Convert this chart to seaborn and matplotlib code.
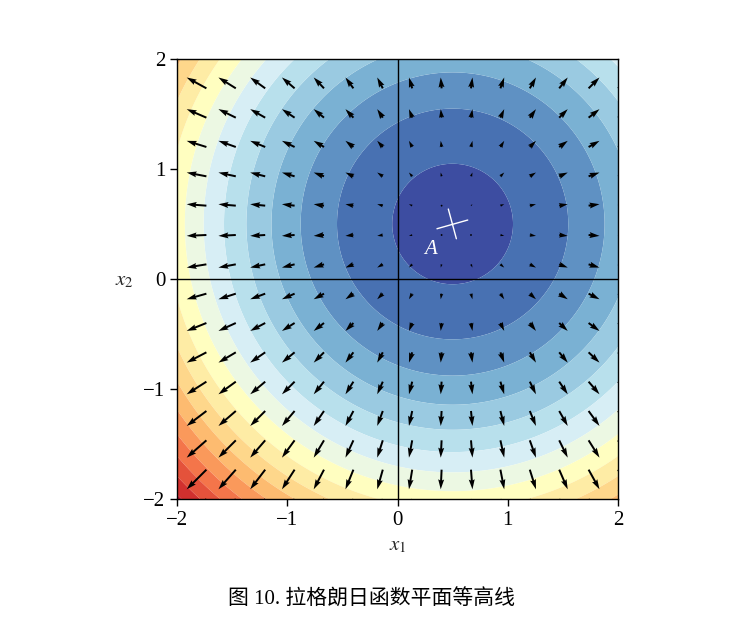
import numpy as np
import matplotlib
matplotlib.use("Agg")
import matplotlib.pyplot as plt
import seaborn as sns

# 函数 L = x1^2 + x2^2 - x1 - x2 + 1 的等高线
tick_values = [-2, -1, 0, 1, 2]
tick_labels = ["\u22122", "\u22121", "0", "1", "2"]
contour_levels = [0.0, 0.8, 1.6, 2.4, 3.2, 4.0, 4.8, 5.6, 6.4, 7.2, 8.0, 8.8, 9.6, 10.4, 11.2, 12.0, 12.8, 13.6]
cross_a_x = [0.358, 0.637]
cross_a_y = [0.457, 0.536]
cross_b_x = [0.461, 0.534]
cross_b_y = [0.636, 0.366]
point_name = "A"
caption = "图 10. 拉格朗日函数平面等高线"

sns.set_style("ticks")
plt.rcParams["font.family"] = ["Liberation Serif", "Noto Sans CJK SC"]
plt.rcParams["mathtext.fontset"] = "stix"

fig = plt.figure(figsize=(7.53, 6.27), dpi=100)
ax = fig.add_axes([177 / 753, 1 - 499 / 627, 441 / 753, 440 / 627])

x = np.linspace(-2, 2, 400)
X1, X2 = np.meshgrid(x, x)
L = X1**2 + X2**2 - X1 - X2 + 1
cmap = sns.color_palette("RdYlBu_r", as_cmap=True)
ax.contourf(X1, X2, L, levels=contour_levels, cmap=cmap, alpha=0.97, antialiased=True)

# 梯度箭头
q = np.linspace(-2, 2, 16)
Q1, Q2 = np.meshgrid(q, q)
ax.quiver(Q1, Q2, 2 * Q1 - 1, 2 * Q2 - 1, angles="xy", scale_units="xy", scale=25,
          width=0.0045, color="black", pivot="tail")

ax.axhline(0, color="black", lw=1)
ax.axvline(0, color="black", lw=1)
ax.plot(cross_a_x, cross_a_y, color="white", lw=1)
ax.plot(cross_b_x, cross_b_y, color="white", lw=1)
ax.text(0.3, 0.27, point_name, color="white", fontsize=15, style="italic", ha="center", va="center")

ax.set_xlim(-2, 2)
ax.set_ylim(-2, 2)
ax.set_xticks(tick_values, tick_labels)
ax.set_yticks(tick_values, tick_labels)
ax.tick_params(labelsize=15, length=5, width=1, colors="black")
for spine in ax.spines.values():
    spine.set_color("black")
    spine.set_linewidth(1)

fig.text(398 / 753, 1 - 546 / 627, r"$x_1$", fontsize=15, ha="center", va="center")
fig.text(124 / 753, 1 - 281 / 627, r"$x_2$", fontsize=15, ha="center", va="center")
fig.text(372 / 753, 1 - 600 / 627, caption, fontsize=15, ha="center", va="center", color="black")

fig.savefig("out.png", dpi=100)
